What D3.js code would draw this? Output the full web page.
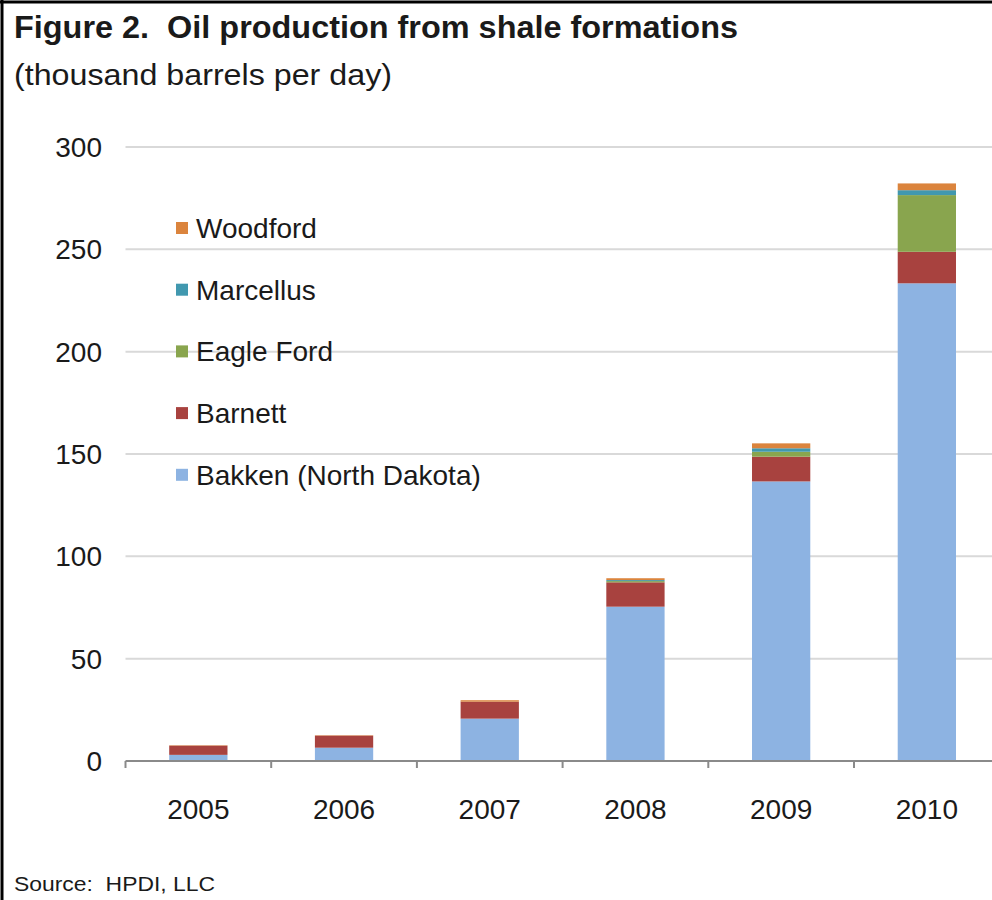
<!DOCTYPE html>
<html>
<head>
<meta charset="utf-8">
<script src="https://cdn.jsdelivr.net/npm/d3@7"></script>
<style>
  html, body { margin: 0; padding: 0; background: #fff; }
  svg { display: block; }
  text { font-family: "Liberation Sans", Arial, sans-serif; fill: #1a1a1a; white-space: pre; }
</style>
</head>
<body>
<svg id="chart" width="992" height="900"></svg>
<script>
// Oil production from shale formations, thousand barrels per day
const years = ["2005", "2006", "2007", "2008", "2009", "2010"];
const bakken    = [3.0, 6.5, 20.7, 75.4, 136.6, 233.4];
const barnett   = [4.5, 5.9, 8.3, 11.9, 12.1, 15.4];
const eagleFord = [0, 0, 0, 0.6, 2.4, 27.7];
const marcellus = [0, 0, 0, 0.5, 1.7, 2.4];
const woodford  = [0.2, 0.2, 0.7, 0.9, 2.4, 3.3];

const seriesNames  = ["Bakken (North Dakota)", "Barnett", "Eagle Ford", "Marcellus", "Woodford"];
const seriesKeys   = ["bakken", "barnett", "eagleFord", "marcellus", "woodford"];
const seriesColors = ["#8DB3E2", "#A8423F", "#89A54E", "#4198AF", "#DB843D"];
const yTicks = [0, 50, 100, 150, 200, 250, 300];

const rows = years.map((y, i) => ({
  year: y, bakken: bakken[i], barnett: barnett[i], eagleFord: eagleFord[i],
  marcellus: marcellus[i], woodford: woodford[i]
}));

const svg = d3.select("#chart");

// frame edges
svg.append("line").attr("x1", 2).attr("x2", 2).attr("y1", 0).attr("y2", 900)
  .attr("stroke", "#000").attr("stroke-width", 3);
svg.append("line").attr("x1", 0).attr("x2", 992).attr("y1", 2).attr("y2", 2)
  .attr("stroke", "#000").attr("stroke-width", 3);

// titles
svg.append("text").attr("x", 14).attr("y", 38)
  .attr("font-size", 31).attr("font-weight", "bold")
  .attr("textLength", 724).attr("lengthAdjust", "spacingAndGlyphs")
  .text("Figure 2.  Oil production from shale formations");
svg.append("text").attr("x", 14).attr("y", 85)
  .attr("font-size", 30)
  .attr("textLength", 378).attr("lengthAdjust", "spacingAndGlyphs")
  .text("(thousand barrels per day)");

const plotLeft = 125.5, step = 145.7;
const x = d3.scaleBand().domain(years)
  .range([plotLeft, plotLeft + step * 6])
  .paddingInner(0.6).paddingOuter(0.3);
const y = d3.scaleLinear().domain([0, 300]).range([761, 147]);

// gridlines
svg.append("g").selectAll("line").data(yTicks.filter(d => d > 0)).join("line")
  .attr("x1", plotLeft).attr("x2", 992)
  .attr("y1", d => y(d)).attr("y2", d => y(d))
  .attr("stroke", "#D9D9D9").attr("stroke-width", 2);

// y tick labels
svg.append("g").selectAll("text").data(yTicks).join("text")
  .attr("x", 102).attr("y", d => y(d)).attr("dy", "0.36em")
  .attr("text-anchor", "end").attr("font-size", 28)
  .text(d => d);

// stacked bars
const stack = d3.stack().keys(seriesKeys);
const layers = stack(rows);
svg.append("g").selectAll("g").data(layers).join("g")
  .attr("fill", (d, i) => seriesColors[i])
  .selectAll("rect").data(d => d).join("rect")
  .attr("x", d => x(d.data.year))
  .attr("width", x.bandwidth())
  .attr("y", d => y(d[1]))
  .attr("height", d => Math.max(0, y(d[0]) - y(d[1])));

// category axis
const gap = x.step() - x.bandwidth();
svg.append("line").attr("x1", plotLeft).attr("x2", 992)
  .attr("y1", 761).attr("y2", 761)
  .attr("stroke", "#8A8A8A").attr("stroke-width", 2);
svg.append("g").selectAll("line").data(years).join("line")
  .attr("x1", d => x(d) - gap / 2).attr("x2", d => x(d) - gap / 2)
  .attr("y1", 761).attr("y2", 768)
  .attr("stroke", "#8A8A8A").attr("stroke-width", 2);
svg.append("g").selectAll("text").data(years).join("text")
  .attr("x", d => x(d) + x.bandwidth() / 2).attr("y", 819)
  .attr("text-anchor", "middle").attr("font-size", 28)
  .text(d => d);

// legend, top entry first
const legendOrder = [4, 3, 2, 1, 0];
const lg = svg.append("g").selectAll("g").data(legendOrder).join("g")
  .attr("transform", (d, i) => `translate(176, ${228 + i * 61.7})`);
lg.append("rect").attr("x", 0).attr("y", -6).attr("width", 12).attr("height", 12)
  .attr("fill", d => seriesColors[d]);
lg.append("text").attr("x", 20).attr("y", 0).attr("dy", "0.36em")
  .attr("font-size", 28)
  .text(d => seriesNames[d]);

// source note
svg.append("text").attr("x", 14).attr("y", 891)
  .attr("font-size", 21)
  .attr("textLength", 201).attr("lengthAdjust", "spacingAndGlyphs")
  .text("Source:  HPDI, LLC");
</script>
</body>
</html>
